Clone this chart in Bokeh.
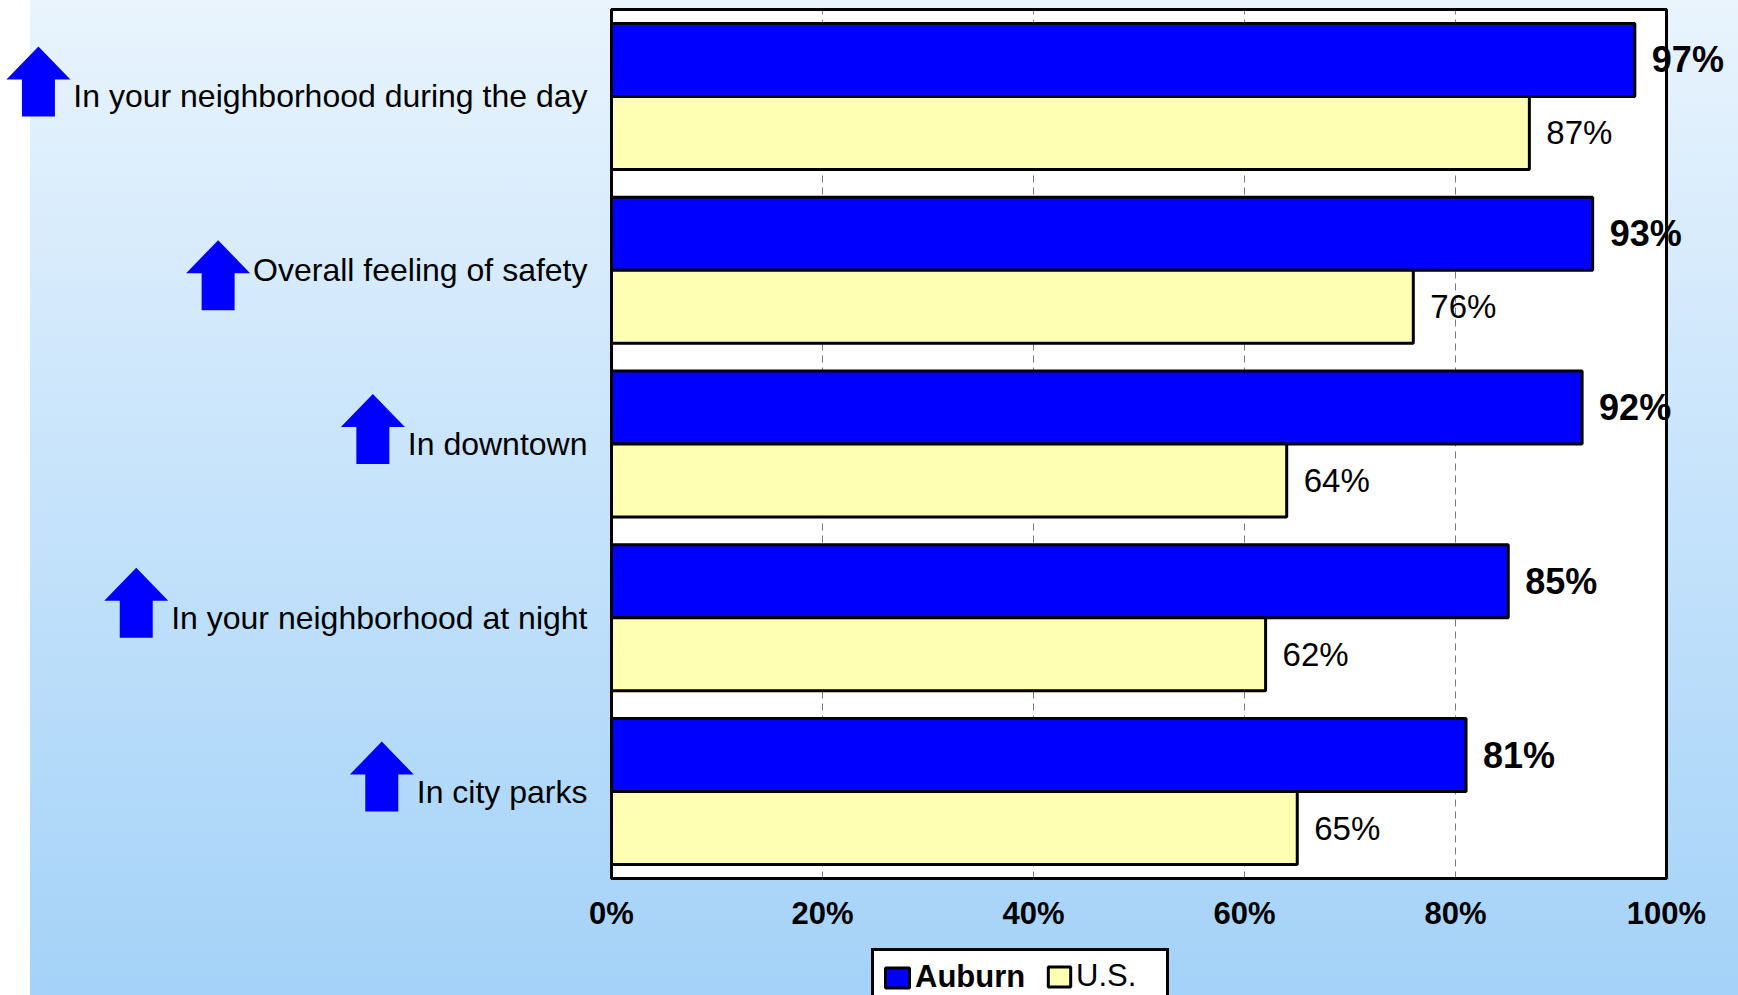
from bokeh.plotting import figure
from bokeh.models import (Range1d, FixedTicker, PrintfTickFormatter, Legend,
                          LegendItem, ColumnDataSource)
from bokeh.core.properties import value
from bokeh.embed import file_html
from bokeh.resources import INLINE

# ---- data -------------------------------------------------------------
categories = [
    "In your neighborhood during the day",
    "Overall feeling of safety",
    "In downtown",
    "In your neighborhood at night",
    "In city parks",
]
auburn = [97, 93, 92, 85, 81]
us = [87, 76, 64, 62, 65]
ticks = [0, 20, 40, 60, 80, 100]
series_names = ["Auburn", "U.S."]

# ---- layout (page pixels) --------------------------------------------
W, H = 1738, 995
PX_0, PX_100 = 611, 1666    # where 0% and 100% fall
BOX_TOP, BOX_BOTTOM = 9, 878
LABEL_RIGHT = 587           # right edge of the category labels
LABEL_GAP = 17              # gap between bar end and its value label
BAR_H = 0.42                # bar thickness, in category units
ARROW_DY = [0, 20, 0, 0, 0] # small vertical nudge of each arrow (px, down)

FONT = "Liberation Sans"
BLUE = "#0000ff"
CREAM = "#ffffb4"

n = len(categories)
ppu_x = (PX_100 - PX_0) / (ticks[-1] - ticks[0])
ppu_y = (BOX_BOTTOM - BOX_TOP) / n
x_start = -PX_0 / ppu_x
x_end = (W - PX_0) / ppu_x
y_start = -0.5 - (H - BOX_BOTTOM) / ppu_y
y_end = n - 0.5 + BOX_TOP / ppu_y

centers = [n - 1 - i for i in range(n)]
y_blue = [c + BAR_H / 2 for c in centers]
y_cream = [c - BAR_H / 2 for c in centers]

src = ColumnDataSource(dict(
    cat=categories,
    y=centers,
    yb=y_blue,
    yc=y_cream,
    auburn=auburn,
    us=us,
    a_lab=[f"{v}%" for v in auburn],
    u_lab=[f"{v}%" for v in us],
    a_x=[v + LABEL_GAP / ppu_x for v in auburn],
    u_x=[v + LABEL_GAP / ppu_x for v in us],
))

p = figure(width=W, height=H,
           x_range=Range1d(x_start, x_end), y_range=Range1d(y_start, y_end),
           output_backend="svg", toolbar_location=None, y_axis_location=None,
           min_border_left=0, min_border_right=0, min_border_top=0,
           min_border_bottom=0)
p.background_fill_color = None
p.border_fill_color = None
p.outline_line_color = None
p.grid.visible = False
p.styles = {
    "background": ("linear-gradient(to right, #ffffff 0px, #ffffff 30px, "
                   "rgba(255,255,255,0) 30px), "
                   "linear-gradient(to bottom, #e9f4fd 0%, #c6e3fb 50%, #a4d2f8 100%)"),
}

# white plot area
lo, hi = ticks[0], ticks[-1]
p.quad(left=lo, right=hi, bottom=-0.5, top=n - 0.5,
       fill_color="white", line_color=None)

# dashed vertical gridlines
for t in ticks[1:-1]:
    p.segment(x0=t, y0=-0.5, x1=t, y1=n - 0.5,
              line_color="#7a7a7a", line_width=1, line_dash="7 5")

# bars
r_a = p.hbar(y="yb", left=0, right="auburn", height=BAR_H, source=src,
             fill_color=BLUE, line_color="black", line_width=3)
r_u = p.hbar(y="yc", left=0, right="us", height=BAR_H, source=src,
             fill_color=CREAM, line_color="black", line_width=3)

# plot-area border
p.quad(left=lo, right=hi, bottom=-0.5, top=n - 0.5,
       fill_color=None, line_color="black", line_width=3)

# value labels
p.text(x="a_x", y="yb", text="a_lab", source=src,
       text_font=value(FONT), text_font_size=value("36px"),
       text_font_style="bold", text_color="black",
       text_align="left", text_baseline="middle")
p.text(x="u_x", y="yc", text="u_lab", source=src,
       text_font=value(FONT), text_font_size=value("33px"),
       text_color="black", text_align="left", text_baseline="middle")

# category labels
CAT_SIZE = 32
p.text(x=(LABEL_RIGHT - PX_0) / ppu_x, y="y", text="cat", source=src,
       text_font=value(FONT), text_font_size=value(f"{CAT_SIZE}px"),
       text_color="black", text_align="right", text_baseline="middle")

# up arrows placed just left of each category label
ARIAL_W = {"I": 278, "n": 556, " ": 278, "y": 500, "o": 556, "u": 556,
           "r": 333, "e": 556, "i": 222, "g": 556, "h": 556, "b": 556,
           "d": 556, "t": 278, "a": 556, "O": 778, "v": 500, "l": 222,
           "f": 278, "s": 500, "w": 722, "c": 500, "p": 556, "k": 500}


def text_width(s, size):
    return sum(ARIAL_W.get(ch, 556) for ch in s) * size / 1000.0


# arrow outline in px, relative to (right edge, vertical centre of label)
HEAD_W, HEAD_H, SHAFT_W, SHAFT_H, TIP_UP = 64, 33, 33, 37, 50
arrow_px = [
    (-HEAD_W / 2, -TIP_UP),
    (0, -TIP_UP + HEAD_H),
    (-HEAD_W / 2 + SHAFT_W / 2, -TIP_UP + HEAD_H),
    (-HEAD_W / 2 + SHAFT_W / 2, -TIP_UP + HEAD_H + SHAFT_H),
    (-HEAD_W / 2 - SHAFT_W / 2, -TIP_UP + HEAD_H + SHAFT_H),
    (-HEAD_W / 2 - SHAFT_W / 2, -TIP_UP + HEAD_H),
    (-HEAD_W, -TIP_UP + HEAD_H),
]
xs, ys = [], []
for cat, c, dy in zip(categories, centers, ARROW_DY):
    right_px = LABEL_RIGHT - text_width(cat, CAT_SIZE) - 3
    xs.append([(right_px + ax - PX_0) / ppu_x for ax, _ in arrow_px])
    ys.append([c - (ay + dy) / ppu_y for _, ay in arrow_px])
p.patches(xs=xs, ys=ys, fill_color=BLUE, line_color=None)

# x axis pinned to the bottom edge of the plot area
ax = p.xaxis[0]
ax.fixed_location = -0.5
ax.ticker = FixedTicker(ticks=ticks)
ax.formatter = PrintfTickFormatter(format="%d%%")
ax.axis_line_color = None
ax.major_tick_line_color = None
ax.minor_tick_line_color = None
ax.major_tick_in = 0
ax.major_tick_out = 0
ax.major_label_standoff = 17
ax.major_label_text_font = FONT
ax.major_label_text_font_size = "31px"
ax.major_label_text_font_style = "bold"
ax.major_label_text_color = "black"

# legend: outlined box with bold "Auburn", plain "U.S." laid over it
LEG_LEFT, LEG_Y = 871, -11
leg_a = Legend(items=[LegendItem(label=series_names[0], renderers=[r_a])],
               location=(LEG_LEFT, LEG_Y), orientation="horizontal",
               padding=8, margin=0, glyph_width=30, glyph_height=25,
               label_standoff=3, label_width=243, label_height=36,
               label_text_font=FONT, label_text_font_size="31px",
               label_text_font_style="bold", label_text_color="black",
               border_line_color="black", border_line_width=3,
               border_line_alpha=1.0,
               background_fill_color="white", background_fill_alpha=1.0)
leg_u = Legend(items=[LegendItem(label=series_names[1], renderers=[r_u])],
               location=(1045, LEG_Y + 12), orientation="horizontal",
               padding=8, margin=0, glyph_width=28, glyph_height=25,
               label_standoff=3, label_height=36,
               label_text_font=FONT, label_text_font_size="31px",
               label_text_color="black",
               border_line_color=None, background_fill_alpha=0.0)
p.add_layout(leg_a)
p.add_layout(leg_u)

open("out.html", "w").write(file_html(p, INLINE))
